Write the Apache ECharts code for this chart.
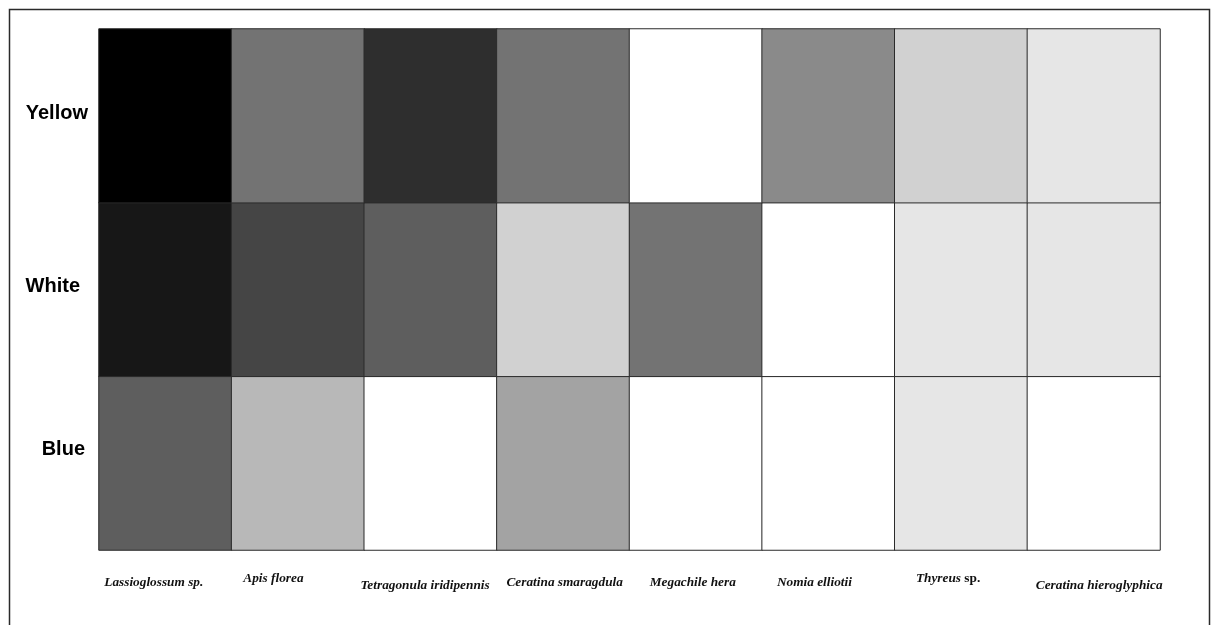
<!DOCTYPE html>
<html>
<head>
<meta charset="utf-8">
<script src="https://cdn.jsdelivr.net/npm/echarts@6/dist/echarts.min.js"></script>
<style>
  html, body { margin: 0; padding: 0; background: #ffffff; }
  #chart { width: 1212px; height: 625px; }
</style>
</head>
<body>
<div id="chart"></div>
<script>
// Bee species (columns) and flower colours (rows, bottom to top)
const species = [
  'Lassioglossum sp.', 'Apis florea', 'Tetragonula iridipennis', 'Ceratina smaragdula',
  'Megachile hera', 'Nomia elliotii', 'Thyreus sp.', 'Ceratina hieroglyphica'
];
const colours = ['Blue', 'White', 'Yellow'];

// Visit intensity per colour (0 = none, 1 = highest), shown as shade of grey
const yellowVisits = [1.00, 0.55, 0.82, 0.55, 0.00, 0.46, 0.18, 0.10];
const whiteVisits  = [0.91, 0.73, 0.63, 0.18, 0.55, 0.00, 0.10, 0.10];
const blueVisits   = [0.63, 0.28, 0.00, 0.36, 0.00, 0.00, 0.10, 0.00];

const rows = { Blue: blueVisits, White: whiteVisits, Yellow: yellowVisits };
const cells = [];
colours.forEach(function (c, yi) {
  rows[c].forEach(function (v, xi) { cells.push([xi, yi, v]); });
});

// Small per-label nudges for the hand-placed species names
const xPad = [
  [4, 23, 0, 0], [0, 49, 0, 0], [7, 11, 0, 0], [4, 0, 0, 3],
  [4, 6, 0, 0], [4, 28, 0, 0], [0, 26, 0, 0], [7, 0, 0, 11]
];
// Row labels sit a little above their row centres
const yLabelStyle = {
  Blue:   { padding: [0, 3, 0, 0], verticalAlign: 'bottom', lineHeight: 28 },
  White:  { padding: [0, 8, 0, 0], verticalAlign: 'bottom', lineHeight: 6 },
  Yellow: { padding: [0, 0, 0, 0], verticalAlign: 'bottom', lineHeight: 5 }
};

const chart = echarts.init(document.getElementById('chart'), null, { renderer: 'canvas' });
chart.setOption({
  animation: false,
  backgroundColor: '#ffffff',
  grid: { left: 99, top: 29, right: 52, bottom: 75 },
  graphic: [{
    type: 'rect',
    shape: { x: 9.5, y: 9.5, width: 1200, height: 640 },
    style: { fill: 'none', stroke: '#2a2a2a', lineWidth: 1.5 },
    silent: true, z: -1
  }],
  xAxis: {
    type: 'category',
    data: species.map(function (s, i) {
      return { value: s, textStyle: { padding: xPad[i] } };
    }),
    axisLine: { show: false },
    axisTick: { show: false },
    splitArea: { show: false },
    axisLabel: {
      interval: 0,
      margin: 22,
      color: '#111',
      fontFamily: 'Liberation Serif',
      fontStyle: 'italic',
      fontWeight: 'bold',
      fontSize: 13.3,
      formatter: function (v) {
        return v === 'Thyreus sp.' ? '{i|Thyreus} {n|sp.}' : v;
      },
      rich: {
        i: { fontFamily: 'Liberation Serif', fontStyle: 'italic', fontWeight: 'bold', fontSize: 13.3, color: '#111' },
        n: { fontFamily: 'Liberation Serif', fontStyle: 'normal', fontWeight: 'bold', fontSize: 13.3, color: '#111' }
      }
    }
  },
  yAxis: {
    type: 'category',
    data: colours.map(function (c) {
      return { value: c, textStyle: yLabelStyle[c] };
    }),
    axisLine: { show: false },
    axisTick: { show: false },
    splitArea: { show: false },
    axisLabel: {
      interval: 0,
      margin: 11,
      color: '#000',
      fontFamily: 'Liberation Sans',
      fontWeight: 'bold',
      fontSize: 20
    }
  },
  visualMap: {
    show: false,
    min: 0,
    max: 1,
    dimension: 2,
    inRange: { color: ['#ffffff', '#000000'] }
  },
  series: [{
    type: 'heatmap',
    data: cells,
    itemStyle: { borderColor: '#2b2b2b', borderWidth: 1 },
    emphasis: { disabled: true }
  }]
});
</script>
</body>
</html>
